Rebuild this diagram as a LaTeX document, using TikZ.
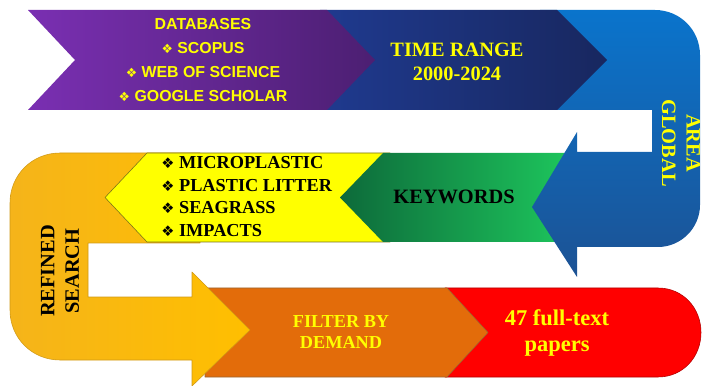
\documentclass[tikz,border=0pt]{standalone}
\usepackage{fontspec}
\setmainfont{Liberation Serif}
\setsansfont{Liberation Sans}
\newfontfamily\dingfont{DejaVu Sans}
\newcommand{\bul}{{\dingfont\scalebox{0.8}{\char"2756}}}

\definecolor{textyellow}{HTML}{FFFF00}
\definecolor{purpleA}{HTML}{7A2FB2}
\definecolor{purpleB}{HTML}{4C1F72}
\definecolor{navyA}{HTML}{1F3A8F}
\definecolor{navyB}{HTML}{18275F}
\definecolor{blueA}{HTML}{0A74CC}
\definecolor{blueB}{HTML}{1C5294}
\definecolor{greenA}{HTML}{0D6A3A}
\definecolor{greenB}{HTML}{1DC45C}
\definecolor{goldA}{HTML}{F5B41A}
\definecolor{goldB}{HTML}{FFBF00}
\definecolor{orangeA}{HTML}{E36C0A}
\definecolor{redA}{HTML}{FF0000}

\begin{document}
\begin{tikzpicture}[x=0.025cm,y=-0.025cm,line join=round]
% Styles
\tikzstyle{yellow text}=[text=textyellow,font=\bfseries\fontsize{14.5}{17.5}\selectfont,align=center]
\tikzstyle{black text}=[text=black,font=\bfseries\fontsize{14.5}{17.5}\selectfont,align=center]
\tikzstyle{list text}=[text=black,font=\bfseries\fontsize{13}{16}\selectfont]
\tikzstyle{db text}=[text=textyellow,font=\sffamily\bfseries\fontsize{11.3}{17}\selectfont]

\useasboundingbox (0,0) rectangle (703,386);

% bottom row
\path[fill=redA,draw=red!70!black,thin] (445,288) -- (658,288)
  .. controls (683,288) and (701,308) .. (701,332.5)
  .. controls (701,357) and (683,377) .. (658,377) -- (445,377) -- cycle;
\path[fill=orangeA,draw=brown!80!black,thin] (205,288) -- (447,288) -- (488,332.5)
  -- (447,377) -- (205,377) -- cycle;

% refined search (u-turn to the right)
\path[left color=goldA,right color=goldB,draw=goldA!85!black,thin] (200,153) -- (60,153)
  .. controls (32,153) and (10,175) .. (10,203) -- (10,310)
  .. controls (10,338) and (32,360) .. (60,360) -- (192,360) -- (192,386)
  -- (250,330) -- (192,272) -- (192,297) -- (88,297) -- (88,243) -- (200,243) -- cycle;

% middle row
\path[fill=textyellow,draw=olive!80!black,thin] (390,153) -- (147,153) -- (105,197.5)
  -- (147,242) -- (390,242) -- cycle;
\path[left color=greenA,right color=greenB] (565,153) -- (383,153) -- (340,197.5)
  -- (383,242) -- (565,242) -- cycle;

% area (u-turn to the left)
\path[top color=blueA,bottom color=blueB] (540,10) -- (655,10)
  .. controls (680,10) and (700,30) .. (700,55) -- (700,205)
  .. controls (700,228) and (681,247) .. (658,247) -- (577,247) -- (577,277)
  -- (532,207) -- (577,132) -- (577,152) -- (652,152) -- (652,110) -- (540,110) -- cycle;

% top row
\path[left color=navyA,right color=navyB] (320,10) -- (557,10) -- (607,60)
  -- (557,110) -- (320,110) -- cycle;
\path[left color=purpleA,right color=purpleB] (28,10) -- (327,10) -- (375,60)
  -- (327,110) -- (28,110) -- (75,60) -- cycle;

% texts
\node[db text] (databases) at (203,61){\begin{tabular}{c}DATABASES\\ \bul{} SCOPUS\\ \bul{} WEB OF SCIENCE\\ \bul{} GOOGLE SCHOLAR\end{tabular}};
\node[yellow text] (timerange) at (457,62){TIME RANGE\\2000-2024};
\node[yellow text,rotate=-90] (area) at (681,143){AREA\\GLOBAL};
\node[black text] (keywords) at (454,197){KEYWORDS};
\node[list text,anchor=west] (keylist) at (148,198){\begin{tabular}{l}\bul{} MICROPLASTIC\\ \bul{} PLASTIC LITTER\\ \bul{} SEAGRASS\\ \bul{} IMPACTS\end{tabular}};
\node[black text,rotate=90] (refined) at (60,271){REFINED\\SEARCH};
\node[yellow text,font=\bfseries\fontsize{13}{15}\selectfont] (filter) at (341,332){FILTER BY\\DEMAND};
\node[yellow text,font=\bfseries\fontsize{16}{19}\selectfont] (papers) at (557,333){47 full-text\\papers};

\end{tikzpicture}
\end{document}
